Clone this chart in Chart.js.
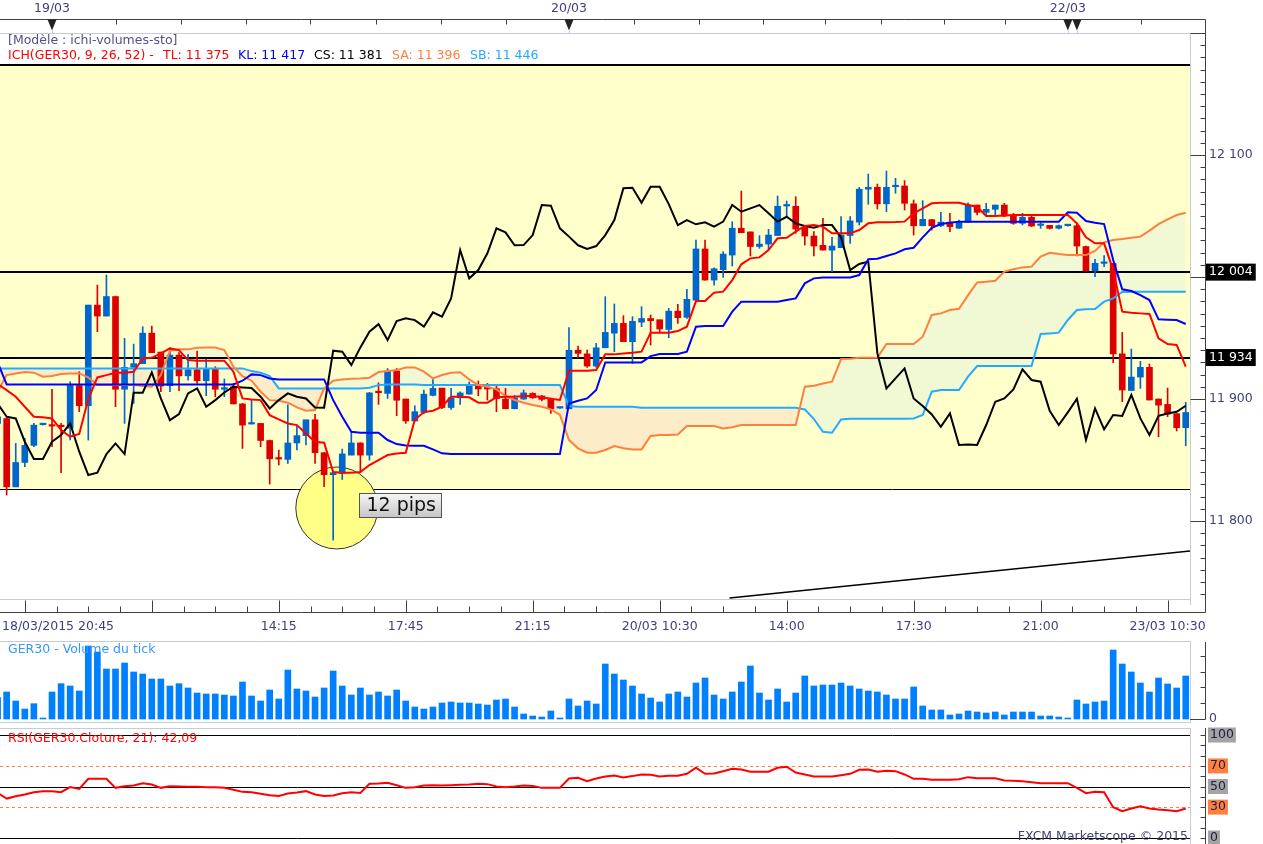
<!DOCTYPE html>
<html>
<head>
<meta charset="utf-8">
<script src="https://cdn.jsdelivr.net/npm/chart.js@4.4.1/dist/chart.umd.min.js"></script>
<style>
body { margin: 0; background: #fff; width: 1263px; height: 844px; overflow: hidden; position: relative;
       font-family: "DejaVu Sans", Verdana, sans-serif; font-size: 12.5px; }
canvas { position: absolute; left: 0; }
.t { position: absolute; white-space: pre; line-height: 14px; }
</style>
</head>
<body>
<canvas id="priceChart" width="1263" height="640" style="top:0"></canvas>
<canvas id="volChart" width="1263" height="84" style="top:640px"></canvas>
<canvas id="rsiChart" width="1263" height="120" style="top:724px"></canvas>

<div class="t" style="left:8px;top:33px;color:#50508c">[Modèle : ichi-volumes-sto]</div>
<div class="t" style="left:8px;top:48px;color:#ff0000">ICH(GER30, 9, 26, 52) -</div>
<div class="t" style="left:163px;top:48px;color:#ff0000">TL: 11 375</div>
<div class="t" style="left:238px;top:48px;color:#0000ff">KL: 11 417</div>
<div class="t" style="left:314px;top:48px;color:#000000">CS: 11 381</div>
<div class="t" style="left:392px;top:48px;color:#ff7f3f">SA: 11 396</div>
<div class="t" style="left:470px;top:48px;color:#22aaff">SB: 11 446</div>
<div class="t" style="left:8px;top:642px;color:#3399ff">GER30 - Volume du tick</div>
<div class="t" style="left:8px;top:731px;color:#ff0000">RSI(GER30.Cloture, 21): 42,09</div>
<div class="t" style="right:75px;top:829px;color:#404070">FXCM Marketscope © 2015</div>

<script>
// ---- data (15 min bars, index 0..131) ----
const opens = [
  11880, 11884, 11828, 11848, 11862, 11879, 11879, 11878, 11876, 11911,
  11894.5, 11977, 11968, 11984, 11908, 11926, 11929, 11954, 11938.5, 11911,
  11936, 11919, 11924, 11915, 11925, 11908, 11910, 11896, 11879.5, 11880,
  11866, 11851, 11850.5, 11864, 11870, 11883, 11856, 11838, 11839, 11854,
  11864, 11854, 11905.4, 11904.6, 11923, 11900, 11882, 11889, 11903, 11909,
  11893, 11901, 11904, 11911, 11909.6, 11908.5, 11900, 11892, 11900, 11904.6,
  11902.5, 11900, 11892.6, 11892, 11940, 11937, 11927, 11942, 11954, 11962,
  11947, 11963, 11966, 11965, 11957, 11972, 11967, 11981, 12023, 11997.5,
  12006, 12018, 12040, 12037, 12025, 12027, 12034, 12058.2, 12058, 12040.5,
  12033.6, 12026, 12022, 12024, 12034, 12045, 12072, 12073.5, 12060, 12074,
  12074.6, 12060, 12042, 12047, 12042, 12045, 12040, 12045, 12059, 12053,
  12055.5, 12059, 12050, 12044, 12049, 12042.3, 12042.3, 12040, 12042.1, 12042,
  12025, 12005, 12011.2, 12011, 11937, 11907, 11918, 11926, 11900, 11895.6,
  11888, 11876.5
];
const highs = [
  11887, 11885.5, 11863.6, 11867.7, 11880, 11879.5, 11908, 11880, 11914, 11922.4,
  11977, 11993.4, 12001.6, 11984.4, 11949.7, 11945, 11959.3, 11959.8, 11938.5, 11942,
  11938, 11936.6, 11939.3, 11932.8, 11926.5, 11916.4, 11912.8, 11896.4, 11899.7, 11880,
  11866.4, 11858.2, 11895.3, 11878, 11882.7, 11887.4, 11856.2, 11840.1, 11859, 11873.2,
  11864.2, 11905.4, 11913.3, 11925, 11925, 11900, 11894.5, 11907.4, 11916, 11908.7,
  11908.7, 11906, 11914, 11914.8, 11912.8, 11911.5, 11908.7, 11903, 11907.4, 11905.2,
  11903, 11900.8, 11893.2, 11958.5, 11943.4, 11940.2, 11945.6, 11983.9, 11977.9, 11968.3,
  11967.5, 11975.7, 11968.9, 11964.8, 11974.3, 11977.6, 11989.9, 12030.3, 12030.3, 12007.6,
  12020.8, 12045.3, 12070.5, 12036.9, 12033.9, 12039.1, 12066.4, 12062.3, 12065.8, 12040.7,
  12037.2, 12048.1, 12032.5, 12049.5, 12049.5, 12073.5, 12084.4, 12076.2, 12086.9, 12080.9,
  12079, 12063.1, 12062.6, 12047.3, 12053, 12052.2, 12046.7, 12060.9, 12059, 12060.4,
  12059, 12060.4, 12052.2, 12052.2, 12050, 12045.4, 12042.3, 12042.6, 12042.5, 12044,
  12025.4, 12014.5, 12017.5, 12011.2, 11954.6, 11941, 11930.9, 11928.7, 11900, 11909,
  11888, 11897.3
];
const lows = [
  11878.6, 11821.3, 11828, 11844.5, 11860.9, 11878.5, 11860.9, 11839.6, 11866.4, 11889.6,
  11866.4, 11955.2, 11968, 11893.7, 11880, 11896.4, 11929, 11938, 11906, 11906,
  11906.8, 11915.5, 11912.8, 11902.7, 11901.9, 11901.9, 11895.9, 11859.5, 11879.5, 11860.9,
  11830.3, 11845.9, 11847.2, 11858.2, 11862.3, 11847.2, 11828.1, 11784.4, 11834.1, 11854.3,
  11839.6, 11849.9, 11895.6, 11900.5, 11886.3, 11880, 11882, 11887.7, 11902.5, 11892.1,
  11891.5, 11895.6, 11904, 11902.7, 11899.2, 11889.6, 11892, 11892, 11899.7, 11900.5,
  11898.5, 11888.2, 11892.3, 11892, 11933.9, 11926, 11926, 11942, 11938.8, 11947,
  11929.2, 11959.3, 11944.3, 11954.6, 11950.3, 11962, 11966.1, 11981, 11997.5, 11993.4,
  11999.7, 12009, 12036.3, 12017.2, 12023.5, 12023, 12033.9, 12050.3, 12035.8, 12026.2,
  12017.2, 12022, 12004.4, 12024.3, 12027.6, 12042.6, 12059.6, 12055.7, 12053.6, 12068.6,
  12054.9, 12034.4, 12042, 12038.5, 12041.3, 12037.2, 12039.9, 12045, 12050.8, 12050.8,
  12050.8, 12049.5, 12043.2, 12042.6, 12041.3, 12039.9, 12039.3, 12039.3, 12041.7, 12017.2,
  12005, 12000.3, 12008.5, 11929.8, 11897.8, 11906.8, 11908.7, 11899.2, 11869.1, 11885.5,
  11873.8, 11861.7
];
const closes = [
  11885.5, 11828, 11848, 11862, 11878.6, 11879, 11877.8, 11877.3, 11911, 11894.5,
  11977, 11968, 11984, 11908, 11926, 11929, 11954, 11938, 11910.6, 11936,
  11919, 11924, 11915, 11925, 11908, 11909.3, 11896, 11878.6, 11879.7, 11866,
  11851, 11850.8, 11864, 11870, 11883, 11856, 11838, 11839.6, 11855, 11864,
  11854, 11905, 11905.2, 11923, 11899, 11882, 11889.6, 11904, 11908.7, 11893,
  11901, 11905, 11910.7, 11908.2, 11908.2, 11900.3, 11892, 11900.8, 11905, 11901,
  11899.7, 11892, 11892.9, 11940, 11937.4, 11927, 11942, 11954.6, 11962, 11947,
  11963.7, 11966, 11964.2, 11957.4, 11972, 11966.7, 11981.7, 12023, 11997.5, 12006.8,
  12018.8, 12040, 12036.3, 12025, 12027, 12034.4, 12058, 12058.5, 12039.3, 12033.6,
  12025.4, 12022.1, 12025.4, 12034.4, 12046, 12072, 12073.5, 12060, 12073.5, 12074.6,
  12060.4, 12042, 12047.3, 12042, 12045, 12041.3, 12045, 12059, 12053, 12055.5,
  12059, 12050, 12044, 12049, 12041.8, 12042.6, 12039.9, 12042.1, 12042.1, 12025.4,
  12005, 12011.2, 12011.4, 11937, 11907.4, 11918, 11926, 11899.2, 11895, 11887.7,
  11876.5, 11889
];

// Ichimoku lines
const tenkan = [
  11912.3, 11907.3, 11901.9, 11893.7, 11885.5, 11885.0, 11884.1, 11874.6, 11869.1, 11871.3,
  11900.0, 11917.7, 11919.6, 11921.6, 11921.6, 11922.4, 11933.3, 11933.8, 11937.4, 11941.5,
  11940.1, 11931.9, 11931.4, 11931.4, 11931.4, 11931.4, 11922.4, 11900.5, 11899.7, 11899.1,
  11886.8, 11883.3, 11880.0, 11878.6, 11871.8, 11865.0, 11864.2, 11840.1, 11839.6, 11839.6,
  11840.1, 11845.9, 11850.0, 11854.1, 11855.4, 11856.0, 11883.0, 11889.3, 11890.4, 11893.7,
  11901.9, 11901.9, 11901.4, 11897.0, 11897.0, 11901.4, 11901.9, 11901.9, 11902.5, 11902.5,
  11901.4, 11900.3, 11899.2, 11923.2, 11923.2, 11923.2, 11923.8, 11936.6, 11936.6, 11937.4,
  11938.0, 11938.8, 11954.4, 11954.4, 11954.4, 11955.7, 11959.3, 11980.3, 11980.3, 11987.2,
  11988.0, 11997.5, 12010.4, 12015.3, 12016.1, 12022.1, 12031.7, 12032.2, 12037.2, 12041.8,
  12042.6, 12041.3, 12035.8, 12035.8, 12035.8, 12038.5, 12044.0, 12044.8, 12044.8, 12045.0,
  12045.4, 12052.2, 12056.3, 12060.4, 12060.9, 12060.9, 12060.9, 12059.0, 12057.6, 12050.0,
  12050.0, 12050.5, 12050.8, 12050.8, 12050.8, 12050.8, 12050.8, 12050.8, 12050.8, 12044.0,
  12032.5, 12027.6, 12027.6, 12005.7, 11971.6, 11970.8, 11970.2, 11969.7, 11949.7, 11945.1,
  11944.3, 11926.5
];
const kijun = [
  11930, 11912, 11912, 11912, 11912, 11912, 11912, 11912, 11912, 11912,
  11912, 11912, 11912, 11912, 11912, 11912, 11912, 11912, 11912, 11912,
  11912, 11912, 11912, 11912, 11912, 11912, 11912, 11915, 11920.2, 11919.6,
  11916.9, 11916.1, 11916.1, 11916.1, 11916.1, 11916.1, 11916.1, 11899.1, 11885.5, 11873.2,
  11872.4, 11872.4, 11872.4, 11866.4, 11863.1, 11862, 11861.7, 11861.7, 11858.7, 11855.5,
  11854.9, 11854.9, 11854.9, 11854.9, 11854.9, 11854.9, 11854.9, 11854.9, 11854.9, 11854.9,
  11854.9, 11854.9, 11854.9, 11896.4, 11898.6, 11900.5, 11907.4, 11930, 11930, 11930,
  11930, 11930, 11935.2, 11936.9, 11936.9, 11936.9, 11938.8, 11959.3, 11959.8, 11959.8,
  11959.8, 11971.6, 11979.8, 11979.8, 11979.8, 11979.8, 11979.8, 11981.1, 11982.5, 11994.8,
  11998.9, 11999.7, 11999.7, 11999.7, 11999.7, 12001.6, 12014.5, 12015, 12017.2, 12019.4,
  12022.7, 12024, 12032.5, 12040.4, 12043.4, 12044.5, 12045.4, 12045.4, 12045.4, 12045.4,
  12045.4, 12045.4, 12045.4, 12045.4, 12045.4, 12045.4, 12045.4, 12045.4, 12053, 12052.7,
  12045.9, 12044.5, 12043.4, 12013.9, 11989.9, 11988.5, 11985.2, 11981.1, 11965.3, 11965,
  11964.8, 11961.5
];
const chikou = [
  11896.4, 11885.5, 11884.1, 11865.0, 11850.8, 11850.8, 11865.0, 11870.5, 11880.0, 11856.8,
  11837.7, 11839.6, 11854.9, 11863.6, 11854.9, 11905.2, 11905.2, 11921.8, 11900.5, 11882.7,
  11887.7, 11904.6, 11908.7, 11893.7, 11899.1, 11905.4, 11910.1, 11909.5, 11909.0, 11901.9,
  11892.3, 11899.1, 11904.6, 11901.9, 11900.5, 11893.1, 11892.9, 11939.6, 11938.8, 11927.8,
  11942.3, 11955.2, 11961.4, 11948.3, 11963.9, 11966.1, 11964.7, 11959.3, 11971.0, 11967.5,
  11982.5, 12022.1, 11998.9, 12005.7, 12019.4, 12039.9, 12036.6, 12026.0, 12026.2, 12034.4,
  12059.0, 12058.5, 12039.9, 12033.1, 12026.0, 12023.0, 12025.4, 12034.4, 12046.7, 12072.7,
  12073.2, 12060.9, 12074.0, 12074.0, 12059.8, 12042.6, 12046.7, 12043.2, 12044.8, 12041.3,
  12045.4, 12059.0, 12053.5, 12056.3, 12059.0, 12052.2, 12045.4, 12049.4, 12044.0, 12041.8,
  12040.4, 12042.6, 12042.6, 12032.5, 12005.7, 12010.7, 12012.6, 11937.4, 11908.7, 11916.9,
  11925.1, 11900.5, 11894.3, 11887.4, 11877.3, 11888.2, 11862.3, 11862.8, 11862.3, 11878.7,
  11897.8, 11900.5, 11907.9, 11924.3, 11915.6, 11914.2, 11890.4, 11878.7, 11889.1, 11900.3,
  11866.4, 11892.3, 11875.1, 11886.9, 11886.1, 11903.3, 11884.1, 11870.5, 11886.3, 11888.2,
  11889.6, 11894.5
];
const senkouA = [
  11906.0, 11919.6, 11921.0, 11922.1, 11921.6, 11918.3, 11918.8, 11920.5, 11921.0, 11921.0,
  11917.7, 11911.4, 11911.4, 11911.4, 11911.4, 11911.4, 11910.6, 11910.1, 11919.6, 11939.6,
  11940.7, 11940.7, 11942.0, 11942.3, 11942.3, 11940.1, 11926.5, 11918.8, 11915.0, 11906.0,
  11899.1, 11898.6, 11897.0, 11893.1, 11890.4, 11891.0, 11908.7, 11915.0, 11916.1, 11916.6,
  11916.9, 11917.5, 11922.1, 11922.9, 11923.7, 11925.9, 11925.9, 11922.4, 11916.9, 11919.7,
  11921.6, 11921.9, 11916.1, 11911.5, 11910.1, 11907.9, 11902.5, 11899.2, 11897.0, 11895.1,
  11893.7, 11891.5, 11886.9, 11866.4, 11859.6, 11856.0, 11856.0, 11858.2, 11861.5, 11859.6,
  11858.7, 11858.7, 11869.7, 11870.5, 11870.5, 11871.0, 11877.9, 11877.9, 11877.9, 11877.9,
  11875.9, 11876.8, 11878.7, 11878.7, 11878.7, 11878.7, 11878.7, 11878.7, 11878.7, 11910.1,
  11910.9, 11912.8, 11914.2, 11932.8, 11933.1, 11933.9, 11933.9, 11933.9, 11945.1, 11945.1,
  11945.1, 11945.1, 11951.1, 11968.9, 11970.2, 11973.0, 11974.0, 11985.2, 11995.6, 11996.2,
  11997.0, 12004.4, 12006.3, 12007.9, 12008.5, 12016.7, 12019.9, 12018.8, 12018.0, 12018.0,
  12018.0, 12021.3, 12028.4, 12030.3, 12031.1, 12032.2, 12033.1, 12038.0, 12043.4, 12047.3,
  12050.8, 12052.7
];
const senkouB = [
  11925.1, 11925.1, 11925.1, 11925.1, 11925.1, 11925.1, 11925.1, 11925.1, 11925.1, 11925.1,
  11925.1, 11925.1, 11925.1, 11925.1, 11925.1, 11925.1, 11925.1, 11925.1, 11925.1, 11925.1,
  11925.1, 11925.1, 11925.1, 11925.1, 11925.1, 11925.1, 11925.1, 11925.1, 11922.9, 11921.6,
  11918.8, 11908.7, 11908.7, 11908.7, 11908.7, 11908.7, 11908.7, 11908.7, 11908.7, 11908.7,
  11908.7, 11909.3, 11911.4, 11912, 11912, 11912, 11912, 11911.5, 11911.5, 11911.5,
  11911.5, 11911.5, 11911.5, 11911.5, 11911.5, 11911.5, 11911.5, 11911.5, 11911.5, 11911.5,
  11911.5, 11911.5, 11911.5, 11894.3, 11893.7, 11893.7, 11893.7, 11893.7, 11893.7, 11893.7,
  11893.7, 11892.9, 11892.9, 11892.9, 11892.9, 11892.9, 11892.9, 11892.9, 11892.9, 11892.9,
  11892.9, 11892.9, 11892.9, 11892.9, 11892.9, 11892.9, 11892.9, 11892.9, 11892.9, 11891.5,
  11883.6, 11873.2, 11872.4, 11883.3, 11883.9, 11883.9, 11883.9, 11883.9, 11883.9, 11883.9,
  11883.9, 11884.1, 11886.9, 11906, 11907.4, 11907.4, 11907.4, 11918.3, 11927, 11927,
  11927, 11927, 11927, 11927, 11927, 11953.3, 11953.8, 11954.4, 11964.8, 11973,
  11973.5, 11973.8, 11979.8, 11982.5, 11987.7, 11988, 11988, 11988, 11988, 11988,
  11988, 11988
];

const tickVolume = [
  640, 810, 540, 300, 460, 20, 810, 1060, 990, 840,
  2190, 2010, 1500, 1500, 1680, 1410, 1350, 1200, 1200, 990,
  1060, 930, 780, 750, 750, 720, 690, 1110, 690, 540,
  870, 600, 1470, 900, 840, 660, 930, 1440, 990, 720,
  930, 720, 810, 690, 870, 540, 360, 300, 360, 480,
  510, 480, 480, 450, 420, 570, 600, 360, 150, 90,
  60, 240, 20, 600, 390, 540, 450, 1650, 1350, 1170,
  990, 750, 630, 510, 750, 810, 660, 1080, 1230, 720,
  600, 810, 1110, 1590, 780, 570, 900, 510, 780, 1290,
  990, 1020, 1020, 1080, 990, 900, 840, 810, 720, 600,
  600, 960, 390, 270, 270, 120, 150, 240, 210, 180,
  210, 120, 210, 210, 210, 90, 90, 60, 10, 570,
  450, 510, 540, 2070, 1650, 1410, 1080, 810, 1230, 1050,
  930, 1290
];
const rsi = [
  43.8, 38.3, 40.6, 42.2, 44.5, 45.5, 45.5, 44.5, 49.4, 47.7,
  57.5, 57.5, 57.5, 48.7, 50.3, 51.0, 53.2, 51.9, 48.7, 50.3,
  50.0, 49.7, 49.7, 49.4, 49.4, 48.7, 46.8, 44.8, 44.5, 42.9,
  41.6, 40.9, 43.2, 44.2, 45.5, 42.2, 40.9, 41.2, 43.5, 44.5,
  43.8, 52.6, 52.9, 53.6, 51.3, 48.7, 49.4, 51.0, 51.3, 51.0,
  51.3, 51.6, 51.9, 52.6, 52.3, 50.0, 49.4, 50.0, 51.0, 50.6,
  48.7, 48.7, 48.7, 57.8, 58.4, 55.2, 57.8, 59.7, 60.7, 58.8,
  60.1, 61.7, 61.4, 59.7, 60.4, 60.4, 62.3, 68.2, 62.3, 62.7,
  64.9, 67.2, 66.6, 64.3, 64.3, 64.3, 68.2, 69.2, 63.6, 61.7,
  59.7, 59.7, 59.7, 61.0, 62.3, 66.2, 66.6, 64.3, 65.3, 64.9,
  61.7, 57.5, 57.5, 56.5, 56.5, 56.5, 57.1, 59.1, 58.1, 58.1,
  58.1, 55.8, 55.5, 55.2, 54.2, 53.2, 53.2, 53.2, 53.2, 48.7,
  43.5, 44.8, 44.5, 29.9, 26.0, 28.6, 30.8, 28.6, 27.6, 26.9,
  26.0, 28.6
];

// drawn levels and annotations
const bandTop = 12174, bandBottom = 11826;          // yellow rectangle
const hLevels = [12174, 12004, 11934, 11826];
const markedPrices = [12004, 11934];
const priceLabels = [11800, 11900, 12000, 12100];
const trendLine = [{x: 80.7, y: 11737}, {x: 131.5, y: 11775.4}];
const pipsCircle = [{x: 37.4, y: 11810.7}];
const pipsNote = {x: 39.85, y: 11823, text: '12 pips'};
const rsiLevels = [100, 70, 50, 30, 0];
const volAxisTicks = [475, 950, 1425, 1900];

// time axis
const timeTicks = [3, 17, 31, 45, 59, 73, 87, 101, 115, 129];
const timeLabels = ['18/03/2015 20:45', '', '14:15', '17:45', '21:15', '20/03 10:30', '14:00', '17:30', '21:00', '23/03 10:30'];
const dayMarks = [6, 63, 118, 119];
const dayLabels = ['19/03', '20/03', '22/03', ''];
const topTicks = [13.1, 20.2, 27.4, 34.4, 41.7, 48.9, 56.0, 70.2, 77.3, 84.4, 91.2, 97.4, 104.3, 111.1, 126.1];

// ---- helpers / styles ----
const FONT = '"DejaVu Sans", Verdana, sans-serif';
const TEXT = '#3f3f7f';
const FRAME = '#c4ccd8';
const AXIS = '#404040';
const BLUE = '#0066cc', RED = '#dd0000';
const X_MIN = 0.265, X_MAX = 131.47;

Chart.defaults.font.family = FONT;
Chart.defaults.font.size = 12.5;

const pts = arr => arr.map((v, i) => ({x: i, y: v}));
const fmt = v => String(Math.round(v)).replace(/\B(?=(\d{3})+(?!\d))/g, ' ');
function seg(ctx, x1, y1, x2, y2) { ctx.beginPath(); ctx.moveTo(x1, y1); ctx.lineTo(x2, y2); ctx.stroke(); }

const bodies = opens.map((o, i) => ({x: i, y: [o, closes[i]]}));
const wicks = lows.map((l, i) => ({x: i, y: [l, highs[i]]}));
const candleColors = opens.map((o, i) => closes[i] >= o ? BLUE : RED);

const xScale = {type: 'linear', display: false, min: X_MIN, max: X_MAX, bounds: 'data', offset: false};
const fitRight = s => { s.width = 73; s.paddingTop = 0; s.paddingBottom = 0; };
const lineDs = (label, data, color) => ({type: 'line', label, data: pts(data), borderColor: color,
  borderWidth: 2, pointRadius: 0, tension: 0, order: 1});

// ---- price panel ----
const priceDecor = {
  id: 'priceDecor',
  beforeDraw(chart) {
    const {ctx, chartArea: a, scales: {y}} = chart;
    const t = y.getPixelForValue(bandTop), b = y.getPixelForValue(bandBottom);
    ctx.save();
    ctx.fillStyle = '#ffffcc';
    ctx.fillRect(a.left, t, a.right - a.left, b - t);
    ctx.restore();
  },
  beforeDatasetsDraw(chart) {
    const {ctx, chartArea: a, scales: {y}} = chart;
    ctx.save();
    ctx.strokeStyle = '#000';
    hLevels.forEach((v, k) => {
      ctx.lineWidth = k === hLevels.length - 1 ? 1 : 2;
      const py = Math.round(y.getPixelForValue(v)) + (ctx.lineWidth === 1 ? 0.5 : 0);
      seg(ctx, a.left, py, a.right, py);
    });
    ctx.restore();
  },
  afterDatasetsDraw(chart) {
    const {ctx, scales: {x, y}} = chart;
    const px = Math.round(x.getPixelForValue(pipsNote.x)) + 0.5;
    const py = Math.round(y.getPixelForValue(pipsNote.y)) + 0.5;
    ctx.save();
    const g = ctx.createLinearGradient(0, py, 0, py + 24);
    g.addColorStop(0, '#f6f6f6'); g.addColorStop(1, '#c6c6c6');
    ctx.fillStyle = g;
    ctx.fillRect(px, py, 82, 24);
    ctx.strokeStyle = '#555'; ctx.lineWidth = 1;
    ctx.strokeRect(px, py, 82, 24);
    ctx.fillStyle = '#111';
    ctx.font = '19px ' + FONT;
    ctx.textBaseline = 'middle';
    ctx.fillText(pipsNote.text, px + 7, py + 12.5);
    ctx.restore();
  },
  afterDraw(chart) {
    const {ctx, chartArea: a, scales: {x, y}} = chart;
    const X = v => Math.round(x.getPixelForValue(v)) + 0.5;
    const Y = v => Math.round(y.getPixelForValue(v)) + 0.5;
    const axisX = a.right + 15.5, topY = a.top - 13.5, botY = a.bottom + 13.5;
    ctx.save();
    ctx.lineWidth = 1;
    ctx.strokeStyle = FRAME;
    seg(ctx, a.left, a.top + 0.5, a.right + 1, a.top + 0.5);
    seg(ctx, a.left, a.bottom + 0.5, a.right + 1, a.bottom + 0.5);
    seg(ctx, a.right + 0.5, a.top, a.right + 0.5, a.bottom + 6);
    ctx.strokeStyle = AXIS;
    seg(ctx, 0, topY, axisX, topY);
    seg(ctx, 0, botY, axisX, botY);
    seg(ctx, axisX, topY, axisX, botY);
    topTicks.forEach(t => seg(ctx, X(t), topY, X(t), topY + 5));
    for (let t = timeTicks[0]; t <= X_MAX; t += 3.5) {
      const len = timeTicks.includes(t) ? 12 : 6;
      seg(ctx, X(t), botY - len, X(t), botY);
    }
    for (let v = 11740; v <= 12200; v += 10) {
      const len = v % 100 === 0 ? 15 : 5;
      seg(ctx, axisX - len, Y(v), axisX, Y(v));
    }
    ctx.font = '12.5px ' + FONT;
    ctx.textBaseline = 'middle';
    ctx.textAlign = 'left';
    ctx.fillStyle = TEXT;
    timeTicks.forEach((t, k) => {
      const lab = timeLabels[k];
      if (!lab) return;
      const w = ctx.measureText(lab).width;
      ctx.fillText(lab, Math.max(2, x.getPixelForValue(t) - w / 2), botY + 14.5);
    });
    dayMarks.forEach((t, k) => {
      const px = x.getPixelForValue(t);
      ctx.fillStyle = '#222';
      ctx.beginPath();
      ctx.moveTo(px - 4.5, topY); ctx.lineTo(px + 4.5, topY); ctx.lineTo(px, topY + 11);
      ctx.closePath(); ctx.fill();
      ctx.strokeStyle = FRAME;
      seg(ctx, Math.round(px) + 0.5, topY + 11, Math.round(px) + 0.5, a.top);
      if (dayLabels[k]) {
        ctx.fillStyle = TEXT; ctx.textAlign = 'center';
        ctx.fillText(dayLabels[k], px, 9);
      }
    });
    ctx.restore();
  }
};

new Chart(document.getElementById('priceChart'), {
  type: 'bar',
  data: {
    datasets: [
      lineDs('TL', tenkan, '#ff0000'),
      lineDs('KL', kijun, '#0000ff'),
      lineDs('CS', chikou, '#000000'),
      Object.assign(lineDs('SA', senkouA, '#ff7f3f'), {fill: {target: 4, above: '#f1f8d4', below: '#fcecc8'}}),
      lineDs('SB', senkouB, '#22aaff'),
      {type: 'line', label: 'tendance', data: trendLine, borderColor: '#000', borderWidth: 1.5, pointRadius: 0, order: 1},
      {type: 'bar', label: 'corps', data: bodies, backgroundColor: candleColors, borderWidth: 0,
       barThickness: 6, minBarLength: 1.5, grouped: false, order: 2},
      {type: 'bar', label: 'mèches', data: wicks, backgroundColor: candleColors, borderWidth: 0,
       barThickness: 1, grouped: false, order: 3},
      {type: 'line', label: 'pips', data: pipsCircle, showLine: false, pointRadius: 41, pointStyle: 'circle',
       pointBackgroundColor: '#ffff88', pointBorderColor: '#333', pointBorderWidth: 1, order: 5}
    ]
  },
  options: {
    responsive: false, animation: false, events: [], devicePixelRatio: 1,
    layout: {autoPadding: false, padding: {top: 33, bottom: 41, left: 0, right: 0}},
    plugins: {legend: {display: false}, tooltip: {enabled: false}, filler: {drawTime: 'beforeDatasetsDraw'}},
    scales: {
      x: xScale,
      y: {
        position: 'right', min: 11736.1, max: 12200, bounds: 'data', beginAtZero: false,
        grid: {display: false, drawTicks: false}, border: {display: false},
        afterBuildTicks: s => { s.ticks = priceLabels.concat(markedPrices).map(v => ({value: v})); },
        afterFit: fitRight,
        ticks: {
          autoSkip: false, padding: 19,
          callback: v => fmt(v),
          color: c => markedPrices.includes(c.tick.value) ? '#ffffff' : TEXT,
          showLabelBackdrop: c => markedPrices.includes(c.tick.value),
          backdropColor: '#000000', backdropPadding: {x: 3, y: 1}
        }
      }
    }
  },
  plugins: [priceDecor]
});

// ---- volume panel ----
const volDecor = {
  id: 'volDecor',
  afterDraw(chart) {
    const {ctx, chartArea: a, scales: {y}} = chart;
    const axisX = a.right + 15.5;
    const Y = v => Math.round(y.getPixelForValue(v)) + 0.5;
    ctx.save();
    ctx.lineWidth = 1;
    ctx.strokeStyle = FRAME;
    seg(ctx, a.left, a.top - 0.5, a.right + 1, a.top - 0.5);
    seg(ctx, a.left, a.bottom + 0.5, a.right + 1, a.bottom + 0.5);
    seg(ctx, a.right + 0.5, a.top, a.right + 0.5, a.bottom);
    ctx.strokeStyle = AXIS;
    seg(ctx, axisX, a.top, axisX, Y(0));
    seg(ctx, a.right, Y(0), axisX, Y(0));
    volAxisTicks.forEach(v => seg(ctx, axisX - 5, Y(v), axisX, Y(v)));
    ctx.restore();
  }
};

new Chart(document.getElementById('volChart'), {
  type: 'bar',
  data: {datasets: [{label: 'Volume du tick', data: pts(tickVolume), backgroundColor: '#0080ff',
    borderWidth: 0, barThickness: 6, minBarLength: 1}]},
  options: {
    responsive: false, animation: false, events: [], devicePixelRatio: 1,
    layout: {autoPadding: false, padding: {top: 2, bottom: 2, left: 0, right: 0}},
    plugins: {legend: {display: false}, tooltip: {enabled: false}},
    scales: {
      x: xScale,
      y: {
        position: 'right', min: -90, max: 2310, bounds: 'data', beginAtZero: false,
        grid: {display: false, drawTicks: false}, border: {display: false},
        afterBuildTicks: s => { s.ticks = [{value: 0}]; },
        afterFit: fitRight,
        ticks: {autoSkip: false, padding: 19, color: TEXT, callback: v => String(v)}
      }
    }
  },
  plugins: [volDecor]
});

// ---- RSI panel ----
const rsiDecor = {
  id: 'rsiDecor',
  beforeDatasetsDraw(chart) {
    const {ctx, chartArea: a, scales: {y}} = chart;
    ctx.save();
    ctx.lineWidth = 1;
    rsiLevels.forEach(v => {
      const py = Math.round(y.getPixelForValue(v)) + 0.5;
      if (v === 70 || v === 30) { ctx.strokeStyle = '#ff7f3f'; ctx.setLineDash([3, 3]); }
      else { ctx.strokeStyle = '#000'; ctx.setLineDash([]); }
      seg(ctx, a.left, py, a.right, py);
    });
    ctx.restore();
  },
  afterDraw(chart) {
    const {ctx, chartArea: a, scales: {y}} = chart;
    const axisX = a.right + 15.5;
    ctx.save();
    ctx.lineWidth = 1;
    ctx.strokeStyle = FRAME;
    seg(ctx, a.left, a.top + 0.5, a.right + 1, a.top + 0.5);
    seg(ctx, a.right + 0.5, a.top, a.right + 0.5, a.bottom);
    ctx.strokeStyle = AXIS;
    seg(ctx, axisX, a.top, axisX, a.bottom);
    for (let v = 0; v <= 100; v += 10) {
      const py = Math.round(y.getPixelForValue(v)) + 0.5;
      seg(ctx, axisX - 5, py, axisX, py);
    }
    ctx.restore();
  }
};

new Chart(document.getElementById('rsiChart'), {
  type: 'line',
  data: {datasets: [{label: 'RSI', data: pts(rsi), borderColor: '#ff0000', borderWidth: 2, pointRadius: 0, tension: 0}]},
  options: {
    responsive: false, animation: false, events: [], devicePixelRatio: 1,
    layout: {autoPadding: false, padding: {top: 4, bottom: 0, left: 0, right: 0}},
    plugins: {legend: {display: false}, tooltip: {enabled: false}},
    scales: {
      x: xScale,
      y: {
        position: 'right', min: -5.8, max: 106.8, bounds: 'data', beginAtZero: false,
        grid: {display: false, drawTicks: false}, border: {display: false},
        afterBuildTicks: s => { s.ticks = rsiLevels.map(v => ({value: v})); },
        afterFit: fitRight,
        ticks: {
          autoSkip: false, padding: 20, color: '#202040',
          callback: v => String(v),
          showLabelBackdrop: true,
          backdropColor: c => (c.tick.value === 70 || c.tick.value === 30) ? '#ff8040' : '#a4a4a4',
          backdropPadding: {x: 2, y: 0}
        }
      }
    }
  },
  plugins: [rsiDecor]
});
</script>
</body>
</html>
